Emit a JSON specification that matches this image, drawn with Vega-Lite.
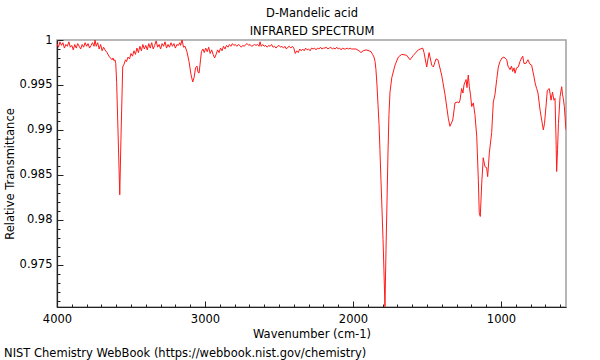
{
"$schema": "https://vega.github.io/schema/vega-lite/v6.json",
"width": 509, "height": 267,
"autosize": {"type": "none"},
"padding": {"left": 57, "top": 40, "right": 34, "bottom": 53},
"background": "white",
"config": {"font": "DejaVu Sans", "view": {"stroke": "#a0a0a0", "strokeWidth": 1.5}, "axis": {"grid": false, "ticks": true, "zindex": 1, "labelFlush": false, "labelFont": "DejaVu Sans", "titleFont": "DejaVu Sans", "labelFontSize": 11.5, "titleFontSize": 11.5, "labelColor": "#000", "titleColor": "#000", "titleFontWeight": "normal", "domainColor": "#222", "tickColor": "#222", "domainWidth": 1.2, "tickWidth": 1}},
"title": {"text": "NIST Chemistry WebBook (https://webbook.nist.gov/chemistry)", "orient": "bottom", "anchor": "start", "frame": "bounds", "fontSize": 11.5, "fontWeight": "normal", "color": "#000", "font": "DejaVu Sans", "offset": 8},
"data": {"values": [
{"w":4000,"t":0.9996},{"w":3990,"t":0.9992},{"w":3980,"t":0.9998},{"w":3970,"t":0.9994},{"w":3960,"t":0.9997},{"w":3950,"t":0.9991},{"w":3940,"t":0.9995},{"w":3930,"t":0.9993},{"w":3920,"t":0.9998},{"w":3910,"t":0.9992},{"w":3900,"t":0.9994},{"w":3890,"t":0.9989},{"w":3880,"t":0.9995},{"w":3870,"t":0.9991},{"w":3860,"t":0.9996},{"w":3850,"t":0.9993},{"w":3840,"t":0.999},{"w":3830,"t":0.9995},{"w":3820,"t":0.9992},{"w":3810,"t":0.9997},{"w":3800,"t":0.9993},{"w":3790,"t":0.9996},{"w":3780,"t":0.9991},{"w":3770,"t":0.9994},{"w":3760,"t":0.9997},{"w":3750,"t":0.9993},{"w":3743,"t":1.0},{"w":3735,"t":0.9993},{"w":3725,"t":0.9997},{"w":3715,"t":0.999},{"w":3705,"t":0.9995},{"w":3695,"t":0.9988},{"w":3685,"t":0.9992},{"w":3676,"t":0.9989},{"w":3662,"t":0.9986},{"w":3649,"t":0.9982},{"w":3639,"t":0.998},{"w":3628,"t":0.9978},{"w":3622,"t":0.998},{"w":3615,"t":0.9977},{"w":3608,"t":0.9978},{"w":3603,"t":0.9974},{"w":3597,"t":0.9953},{"w":3588,"t":0.99},{"w":3576,"t":0.98278},{"w":3568,"t":0.9889},{"w":3556,"t":0.997},{"w":3547,"t":0.9973},{"w":3537,"t":0.9978},{"w":3530,"t":0.9976},{"w":3520,"t":0.9981},{"w":3510,"t":0.9979},{"w":3500,"t":0.9985},{"w":3490,"t":0.9982},{"w":3480,"t":0.9988},{"w":3470,"t":0.9984},{"w":3460,"t":0.9991},{"w":3450,"t":0.9986},{"w":3440,"t":0.9993},{"w":3430,"t":0.9988},{"w":3420,"t":0.9995},{"w":3410,"t":0.999},{"w":3400,"t":0.9994},{"w":3390,"t":0.9989},{"w":3380,"t":0.9996},{"w":3370,"t":0.9991},{"w":3360,"t":0.9997},{"w":3350,"t":0.999},{"w":3340,"t":0.9994},{"w":3330,"t":0.9999},{"w":3320,"t":0.9992},{"w":3310,"t":0.9995},{"w":3300,"t":0.999},{"w":3290,"t":0.9996},{"w":3280,"t":0.9993},{"w":3270,"t":0.9998},{"w":3260,"t":0.9991},{"w":3250,"t":0.9995},{"w":3240,"t":0.9992},{"w":3230,"t":0.9997},{"w":3220,"t":0.9993},{"w":3210,"t":0.9996},{"w":3200,"t":0.9991},{"w":3190,"t":0.9995},{"w":3180,"t":0.9994},{"w":3170,"t":0.9997},{"w":3165,"t":0.9994},{"w":3155,"t":1.0},{"w":3145,"t":0.9992},{"w":3135,"t":0.9993},{"w":3122,"t":0.9987},{"w":3108,"t":0.9976},{"w":3095,"t":0.9962},{"w":3083,"t":0.99533},{"w":3074,"t":0.9958},{"w":3064,"t":0.9969},{"w":3054,"t":0.9971},{"w":3047,"t":0.9964},{"w":3040,"t":0.99633},{"w":3030,"t":0.9978},{"w":3024,"t":0.9987},{"w":3014,"t":0.999},{"w":3005,"t":0.9986},{"w":2995,"t":0.9991},{"w":2985,"t":0.9987},{"w":2975,"t":0.9992},{"w":2965,"t":0.9985},{"w":2955,"t":0.9989},{"w":2945,"t":0.9984},{"w":2935,"t":0.998},{"w":2925,"t":0.9984},{"w":2915,"t":0.9989},{"w":2905,"t":0.9986},{"w":2895,"t":0.9991},{"w":2885,"t":0.9988},{"w":2875,"t":0.9993},{"w":2865,"t":0.999},{"w":2855,"t":0.9994},{"w":2845,"t":0.9992},{"w":2835,"t":0.9995},{"w":2825,"t":0.9993},{"w":2815,"t":0.9996},{"w":2805,"t":0.9994},{"w":2795,"t":0.9995},{"w":2785,"t":0.9993},{"w":2775,"t":0.9995},{"w":2765,"t":0.9994},{"w":2755,"t":0.9992},{"w":2745,"t":0.9994},{"w":2735,"t":0.9993},{"w":2725,"t":0.9995},{"w":2715,"t":0.9996},{"w":2705,"t":0.9994},{"w":2695,"t":0.9995},{"w":2685,"t":0.9993},{"w":2675,"t":0.9994},{"w":2665,"t":0.9995},{"w":2655,"t":0.9994},{"w":2645,"t":0.9995},{"w":2635,"t":0.9993},{"w":2628,"t":0.9998},{"w":2620,"t":0.9993},{"w":2610,"t":0.9995},{"w":2600,"t":0.9993},{"w":2590,"t":0.9994},{"w":2580,"t":0.9992},{"w":2570,"t":0.9994},{"w":2560,"t":0.9993},{"w":2550,"t":0.9995},{"w":2540,"t":0.9992},{"w":2530,"t":0.9993},{"w":2520,"t":0.9991},{"w":2510,"t":0.9993},{"w":2500,"t":0.9994},{"w":2490,"t":0.9992},{"w":2480,"t":0.9993},{"w":2470,"t":0.9991},{"w":2460,"t":0.9993},{"w":2450,"t":0.999},{"w":2440,"t":0.9992},{"w":2430,"t":0.9993},{"w":2420,"t":0.9991},{"w":2410,"t":0.9993},{"w":2400,"t":0.9991},{"w":2390,"t":0.9985},{"w":2380,"t":0.9988},{"w":2370,"t":0.9986},{"w":2360,"t":0.999},{"w":2350,"t":0.9988},{"w":2340,"t":0.999},{"w":2330,"t":0.9988},{"w":2320,"t":0.9991},{"w":2310,"t":0.9989},{"w":2300,"t":0.999},{"w":2290,"t":0.9988},{"w":2280,"t":0.9991},{"w":2270,"t":0.999},{"w":2260,"t":0.9991},{"w":2250,"t":0.9989},{"w":2240,"t":0.9991},{"w":2230,"t":0.999},{"w":2220,"t":0.9992},{"w":2210,"t":0.999},{"w":2200,"t":0.9991},{"w":2190,"t":0.9991},{"w":2180,"t":0.9992},{"w":2170,"t":0.999},{"w":2160,"t":0.9991},{"w":2150,"t":0.9992},{"w":2140,"t":0.999},{"w":2130,"t":0.9991},{"w":2120,"t":0.999},{"w":2110,"t":0.9992},{"w":2100,"t":0.999},{"w":2090,"t":0.9991},{"w":2080,"t":0.9989},{"w":2070,"t":0.9991},{"w":2060,"t":0.999},{"w":2050,"t":0.999},{"w":2040,"t":0.9991},{"w":2030,"t":0.999},{"w":2020,"t":0.9991},{"w":2010,"t":0.999},{"w":2000,"t":0.999},{"w":1980,"t":0.999},{"w":1959,"t":0.9988},{"w":1946,"t":0.9986},{"w":1932,"t":0.9988},{"w":1912,"t":0.9989},{"w":1892,"t":0.9988},{"w":1878,"t":0.9987},{"w":1868,"t":0.9984},{"w":1858,"t":0.9981},{"w":1851,"t":0.9976},{"w":1845,"t":0.9967},{"w":1838,"t":0.995},{"w":1831,"t":0.9928},{"w":1824,"t":0.9906},{"w":1818,"t":0.9878},{"w":1811,"t":0.9844},{"w":1804,"t":0.9811},{"w":1797,"t":0.9778},{"w":1791,"t":0.9744},{"w":1784,"t":0.97033},{"w":1777,"t":0.9767},{"w":1770,"t":0.9822},{"w":1764,"t":0.9872},{"w":1757,"t":0.9917},{"w":1750,"t":0.9942},{"w":1738,"t":0.9958},{"w":1716,"t":0.9972},{"w":1694,"t":0.9981},{"w":1671,"t":0.9984},{"w":1637,"t":0.9983},{"w":1615,"t":0.9978},{"w":1592,"t":0.9983},{"w":1559,"t":0.9989},{"w":1529,"t":0.9991},{"w":1520,"t":0.9986},{"w":1502,"t":0.997},{"w":1486,"t":0.9986},{"w":1468,"t":0.9972},{"w":1457,"t":0.997},{"w":1439,"t":0.9979},{"w":1426,"t":0.9978},{"w":1401,"t":0.9961},{"w":1378,"t":0.9939},{"w":1356,"t":0.9913},{"w":1345,"t":0.9904},{"w":1326,"t":0.9911},{"w":1311,"t":0.993},{"w":1295,"t":0.9931},{"w":1284,"t":0.993},{"w":1277,"t":0.9933},{"w":1266,"t":0.9946},{"w":1257,"t":0.9941},{"w":1250,"t":0.995},{"w":1236,"t":0.9956},{"w":1230,"t":0.9947},{"w":1221,"t":0.9961},{"w":1214,"t":0.9948},{"w":1206,"t":0.9939},{"w":1198,"t":0.9926},{"w":1187,"t":0.993},{"w":1176,"t":0.9917},{"w":1164,"t":0.9893},{"w":1153,"t":0.9844},{"w":1147,"t":0.9808},{"w":1140,"t":0.98037},{"w":1130,"t":0.9841},{"w":1120,"t":0.9869},{"w":1108,"t":0.9859},{"w":1097,"t":0.9858},{"w":1090,"t":0.9848},{"w":1079,"t":0.9874},{"w":1063,"t":0.9897},{"w":1052,"t":0.9931},{"w":1041,"t":0.9939},{"w":1029,"t":0.9956},{"w":1018,"t":0.997},{"w":1007,"t":0.9976},{"w":993,"t":0.998},{"w":980,"t":0.9981},{"w":961,"t":0.9978},{"w":953,"t":0.9971},{"w":939,"t":0.9967},{"w":929,"t":0.9971},{"w":921,"t":0.9965},{"w":912,"t":0.9969},{"w":905,"t":0.9963},{"w":895,"t":0.9969},{"w":883,"t":0.997},{"w":872,"t":0.9976},{"w":861,"t":0.998},{"w":853,"t":0.9982},{"w":845,"t":0.9974},{"w":831,"t":0.9974},{"w":818,"t":0.9978},{"w":804,"t":0.9973},{"w":793,"t":0.9972},{"w":777,"t":0.9959},{"w":768,"t":0.9951},{"w":759,"t":0.9946},{"w":750,"t":0.9941},{"w":736,"t":0.9922},{"w":725,"t":0.9911},{"w":714,"t":0.99},{"w":706,"t":0.9907},{"w":696,"t":0.9926},{"w":687,"t":0.9944},{"w":674,"t":0.9946},{"w":667,"t":0.9939},{"w":662,"t":0.9933},{"w":652,"t":0.9942},{"w":642,"t":0.9933},{"w":635,"t":0.9935},{"w":628,"t":0.9889},{"w":624,"t":0.98537},{"w":618,"t":0.9878},{"w":612,"t":0.9907},{"w":601,"t":0.9937},{"w":590,"t":0.9948},{"w":584,"t":0.9939},{"w":579,"t":0.9935},{"w":572,"t":0.9926},{"w":561,"t":0.99}
]},
"layer": [
{"mark": {"type": "line", "color": "#ff1a1a", "strokeWidth": 1, "clip": true},
 "encoding": {
  "x": {"field": "w", "type": "quantitative", "scale": {"domain": [560.8, 4000], "reverse": true, "nice": false, "zero": false},
        "axis": {"orient": "bottom", "values": [4000, 3000, 2000, 1000], "tickSize": -6, "labelPadding": 12, "format": "d", "title": "Wavenumber (cm-1)", "titlePadding": 4}},
  "y": {"field": "t", "type": "quantitative", "scale": {"domain": [0.9703, 1], "nice": false, "zero": false},
        "axis": {"orient": "left", "values": [0.975, 0.98, 0.985, 0.99, 0.995, 1], "tickSize": -6, "labelPadding": 11, "format": "~g", "title": "Relative Transmittance", "titlePadding": 4}}
 }},
{"mark": {"type": "line", "strokeOpacity": 0},
 "encoding": {
  "x": {"field": "w", "type": "quantitative", "axis": {"orient": "bottom", "values": [3900,3800,3700,3600,3500,3400,3300,3200,3100,2900,2800,2700,2600,2500,2400,2300,2200,2100,1900,1800,1700,1600,1500,1400,1300,1200,1100,900,800,700,600], "tickSize": -3, "labels": false, "domain": false, "title": null}},
  "y": {"field": "t", "type": "quantitative", "axis": {"orient": "left", "values": [0.971,0.972,0.973,0.974,0.976,0.977,0.978,0.979,0.981,0.982,0.983,0.984,0.986,0.987,0.988,0.989,0.991,0.992,0.993,0.994,0.996,0.997,0.998,0.999], "tickSize": -3, "labels": false, "domain": false, "title": null}}
 }},
{"mark": {"type": "line", "strokeOpacity": 0},
 "encoding": {
  "x": {"field": "w", "type": "quantitative", "axis": {"orient": "top", "ticks": false, "labels": false, "domain": false, "title": ["D-Mandelic acid", "INFRARED SPECTRUM"], "titleLineHeight": 18, "titlePadding": 4}},
  "y": {"field": "t", "type": "quantitative", "axis": null}
 }}
],
"resolve": {"axis": {"x": "independent", "y": "independent"}}
}
